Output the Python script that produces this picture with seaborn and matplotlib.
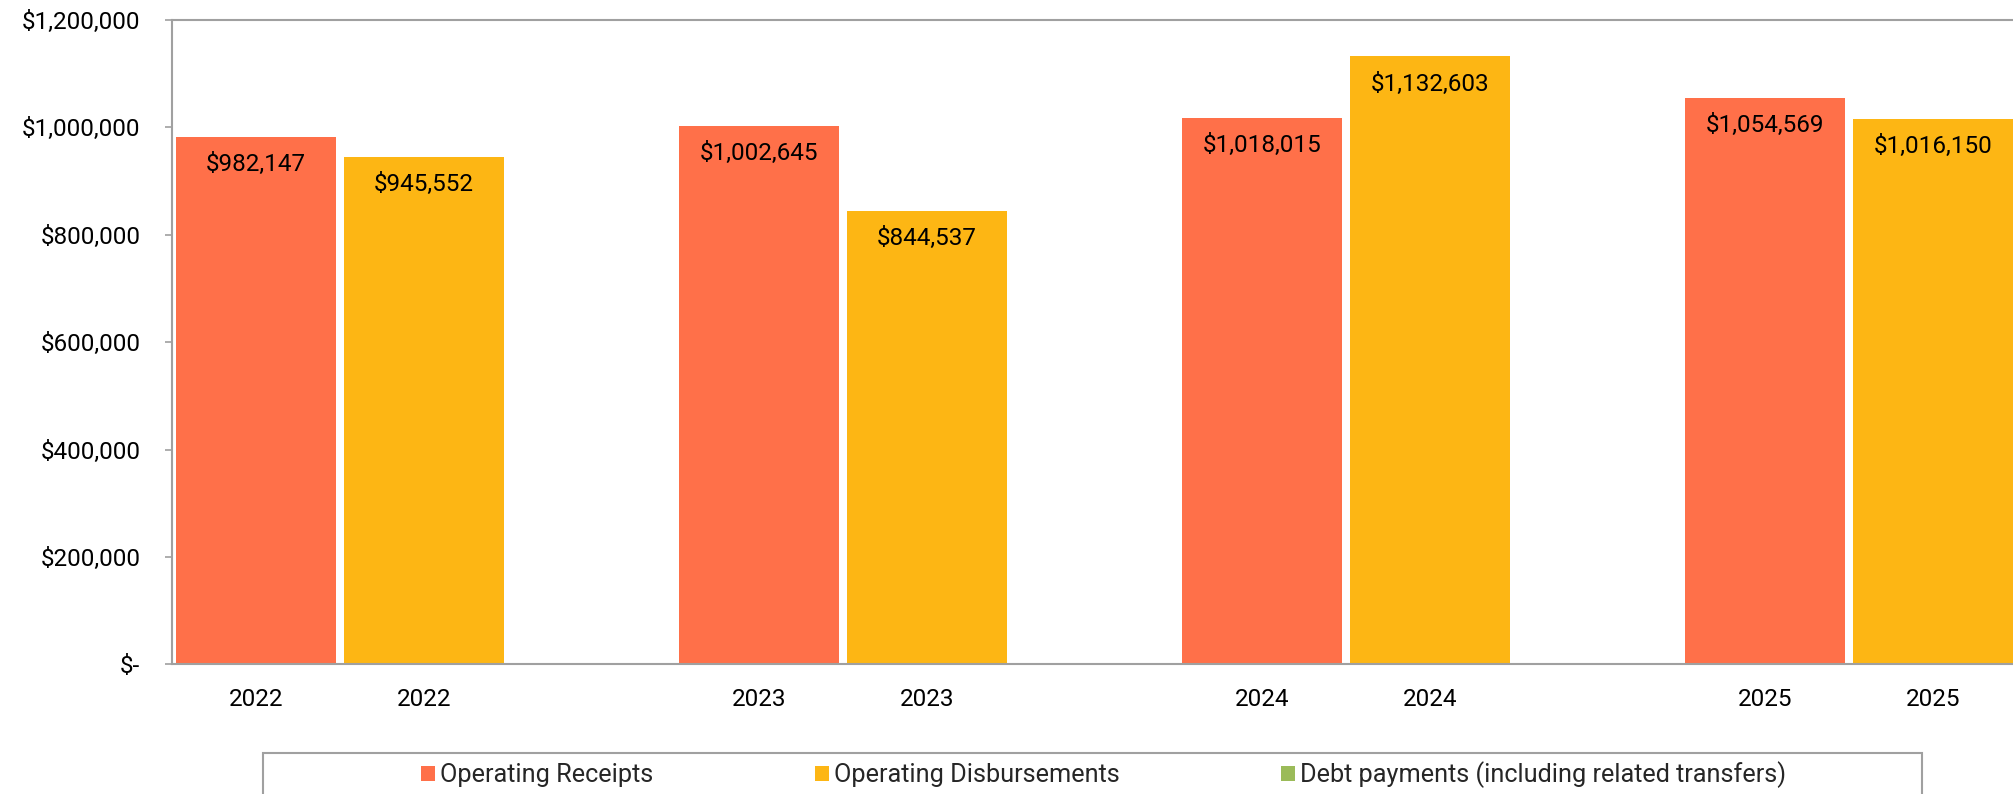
import matplotlib

matplotlib.use("Agg")
import matplotlib.pyplot as plt
import matplotlib.patches as mpatches
from matplotlib.ticker import FuncFormatter, FixedLocator
import pandas as pd
import seaborn as sns

# valeurs
years = ["2022", "2023", "2024", "2025"]
series_names = [
    "Operating Receipts",
    "Operating Disbursements",
    "Debt payments (including related transfers)",
]
receipts = [982147, 1002645, 1018015, 1054569]
disbursements = [945552, 844537, 1132603, 1016150]
debt_payments = [0, 0, 0, 0]

colors = {
    "Operating Receipts": "#FF7049",
    "Operating Disbursements": "#FDB614",
    "Debt payments (including related transfers)": "#9BBB59",
}

# une case par serie et par annee (3 cases par annee)
rows = []
for i, year in enumerate(years):
    for j, vals in enumerate([receipts, disbursements, debt_payments]):
        rows.append(
            {"slot": 3 * i + j, "year": year, "series": series_names[j], "value": vals[i]}
        )
df = pd.DataFrame(rows)

sns.set_style("white")
plt.rcParams["font.family"] = ["Roboto", "DejaVu Sans"]

W, H = 2013, 794
fig = plt.figure(figsize=(W / 100, H / 100), dpi=100)
ax = fig.add_axes([172.3 / W, 1 - 664.3 / H, 1 - 172.3 / W, (664.3 - 20) / H])

sns.barplot(
    data=df,
    x="slot",
    y="value",
    hue="series",
    hue_order=series_names,
    palette=colors,
    dodge=False,
    width=0.954,
    saturation=1,
    linewidth=0,
    ax=ax,
)

handles, labels = ax.get_legend_handles_labels()
ax.get_legend().remove()

# etiquettes de valeur dans les barres
for _, r in df.iterrows():
    if r["series"] == series_names[2]:
        continue
    ax.annotate(
        f"${r['value']:,.0f}",
        xy=(r["slot"], r["value"]),
        xytext=(0, -20),
        textcoords="offset points",
        ha="center",
        va="center",
        fontsize=17.5,
        color="black",
    )

ax.set_yticks(range(0, 1200001, 200000))
ax.yaxis.set_major_formatter(
    FuncFormatter(lambda v, p: "$-" if v == 0 else f"${v:,.0f}")
)

ax.set_xticks(df["slot"])
ax.set_xticklabels([r["year"] if r["series"] != series_names[2] else "" for _, r in df.iterrows()])
ax.xaxis.set_minor_locator(FixedLocator([s - 0.5 for s in range(len(df) + 1)]))
ax.tick_params(axis="x", which="major", length=0, pad=17, labelsize=17.5, labelcolor="black")
ax.tick_params(axis="x", which="minor", length=6, width=1.2, color="#A0A0A0", direction="out")
ax.tick_params(axis="y", length=5, width=1.2, color="#A0A0A0", pad=18, labelsize=17.5, labelcolor="black", left=True)
ax.set_xlabel("")
ax.set_ylabel("")

# le graphique est coupe a droite
ax.set_ylim(0, 1200000)
ax.set_xlim(-0.5, (W - 172.3) / 167.7 - 0.5)

for side in ["left", "bottom", "top"]:
    ax.spines[side].set_visible(True)
    ax.spines[side].set_color("#A0A0A0")
    ax.spines[side].set_linewidth(1.5)
ax.spines["right"].set_visible(False)

fig.legend(
    handles,
    labels,
    loc="center left",
    bbox_to_anchor=(421 / W, 1 - 775 / H),
    ncol=3,
    frameon=False,
    fontsize=18.2,
    handlelength=0.55,
    handleheight=0.55,
    handletextpad=0.2,
    columnspacing=6.4,
    borderpad=0,
    borderaxespad=0,
)

# cadre de la legende (coupe en bas de l'image)
box = mpatches.Rectangle(
    (263 / W, -0.2),
    (1922 - 263) / W,
    1 - 753.3 / H + 0.2,
    transform=fig.transFigure,
    fill=False,
    edgecolor="#A0A0A0",
    linewidth=1.5,
)
fig.add_artist(box)

fig.savefig("out.png", dpi=100)
